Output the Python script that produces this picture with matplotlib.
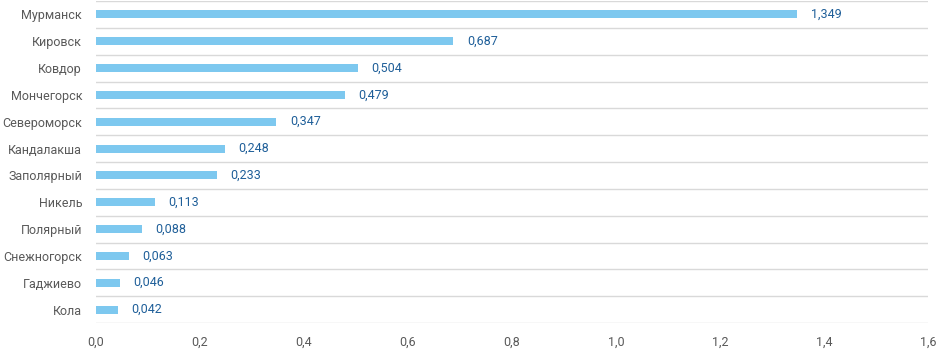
import matplotlib
matplotlib.use('Agg')
import matplotlib.pyplot as plt
from matplotlib.ticker import FuncFormatter

plt.rcParams['font.family'] = ['Roboto', 'DejaVu Sans']

# Data
cities = ['Мурманск', 'Кировск', 'Ковдор', 'Мончегорск', 'Североморск', 'Кандалакша',
          'Заполярный', 'Никель', 'Полярный', 'Снежногорск', 'Гаджиево', 'Кола']
values = [1.349, 0.687, 0.504, 0.479, 0.347, 0.248, 0.233, 0.113, 0.088, 0.063, 0.046, 0.042]
xticks = [0.0, 0.2, 0.4, 0.6, 0.8, 1.0, 1.2, 1.4, 1.6]

fig = plt.figure(figsize=(9.38, 3.49), dpi=100)
ax = fig.add_axes([96 / 938, 26 / 349, 832 / 938, 322 / 349])

n = len(cities)
ypos = list(range(n))[::-1]
ax.barh(ypos, values, height=0.3, color='#7DC8EF', zorder=3)

for y, v in zip(ypos, values):
    ax.text(v + 0.026, y, f'{v:.3f}'.replace('.', ','), va='center', ha='left',
            fontsize=9, color='#1F5F99', zorder=4)

# gridlines between categories
for k in range(n + 1):
    ax.axhline(k - 0.5, color='#D9D9D9', lw=1, zorder=1)

ax.set_xlim(0, 1.6)
ax.set_ylim(-0.5, n - 0.5)
ax.set_xticks(xticks)
ax.xaxis.set_major_formatter(FuncFormatter(lambda x, p: f'{x:.1f}'.replace('.', ',')))
ax.set_yticks(ypos)
ax.set_yticklabels(cities)
ax.tick_params(axis='both', length=0, labelsize=9, labelcolor='#595959')
ax.tick_params(axis='x', pad=9)
ax.tick_params(axis='y', pad=10)
for s in ax.spines.values():
    s.set_visible(False)

fig.savefig('out.png', dpi=100)
